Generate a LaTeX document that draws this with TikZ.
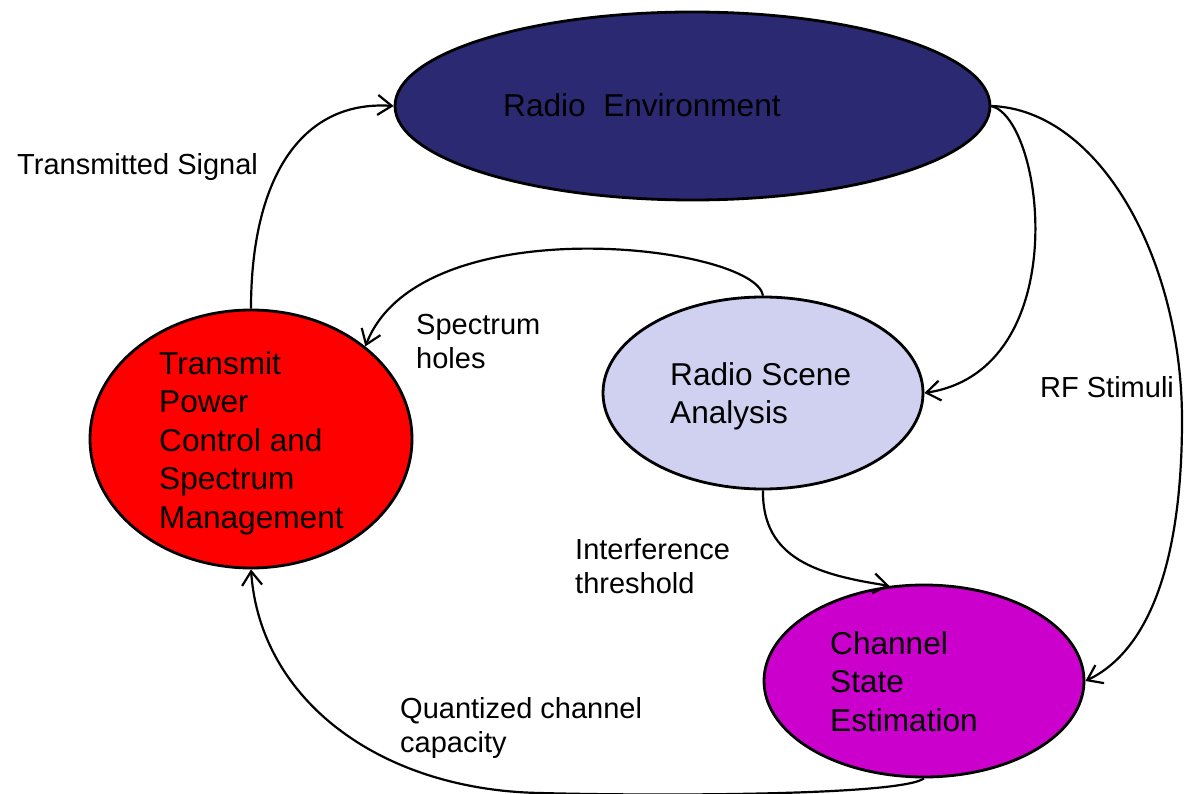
\documentclass[tikz,border=0pt]{standalone}
\usepackage{fontspec}
\setmainfont{Liberation Sans}
\usetikzlibrary{shapes.geometric,arrows.meta}
\definecolor{navyenv}{RGB}{42,41,114}
\definecolor{lavscene}{RGB}{208,208,240}
\definecolor{magchan}{RGB}{204,0,204}
\definecolor{redtp}{RGB}{255,0,0}
\tikzset{
  blob/.style={ellipse, draw=black, line width=2.8pt, inner sep=0pt},
  big/.style={font=\fontsize{31.6}{38.4}\selectfont, align=left, inner sep=0pt, anchor=base west},
  lbl/.style={font=\fontsize{29}{34}\selectfont, align=left, inner sep=0pt, anchor=base west},
  conn/.style={line width=2.2pt, -{Straight Barb[length=14pt,width=20pt,line width=2.2pt]}}
}
\begin{document}
\begin{tikzpicture}[x=1pt,y=-1pt]
\useasboundingbox (0,0) rectangle (1184,794);
% ellipses
\node[blob, fill=navyenv, minimum width=595pt, minimum height=188pt] (re) at (692.5,106) {};
\node[blob, fill=redtp, minimum width=322pt, minimum height=258pt] (tp) at (251,439) {};
\node[blob, fill=lavscene, minimum width=320pt, minimum height=192pt] (rs) at (763,393) {};
\node[blob, fill=magchan, minimum width=320pt, minimum height=192pt] (cs) at (924,681) {};
% ellipse texts (base anchor = last line baseline)
\node[big] (retxt) at (503,117) {Radio\ \ Environment};
\node[big] (tptxt) at (159,528) {Transmit\\Power\\Control and\\Spectrum\\Management};
\node[big] (rstxt) at (670,424) {Radio Scene\\Analysis};
\node[big] (cstxt) at (830,731) {Channel\\State\\Estimation};
% labels
\node[lbl] (l1) at (17,175) {Transmitted Signal};
\node[lbl] (l2) at (416,369) {Spectrum\\holes};
\node[lbl] (l3) at (1040,398) {RF Stimuli};
\node[lbl] (l4) at (575,593) {Interference\\threshold};
\node[lbl] (l5) at (400,752) {Quantized channel\\capacity};
% connectors
\coordinate (rfmid) at (1182,420);
\draw[conn] (tp.north) .. controls (251,180) and (300,100) .. (re.west);
\draw[conn] (re.east) .. controls (1045,120) and (1075,370) .. (rs.east);
\draw[conn] (re.east) .. controls (1100,110) and (1182,260) .. (rfmid) .. controls (1182,560) and (1150,650) .. (cs.east);
\draw[conn] (rs.north) .. controls (755,245) and (420,205) .. (tp.39);
\draw[conn] (rs.south) .. controls (762,560) and (820,575) .. (cs.110);
\draw[conn] (cs.south) .. controls (900,796) and (650,796) .. (540,793) .. controls (380,790) and (260,700) .. (tp.south);
\end{tikzpicture}
\end{document}
